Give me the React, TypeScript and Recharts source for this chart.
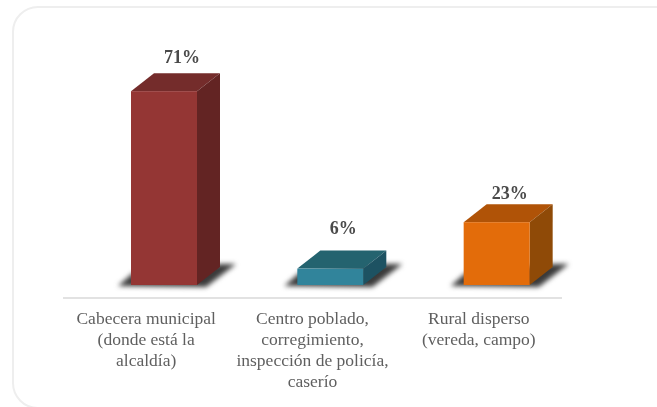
import { BarChart, Bar, XAxis, YAxis, Cell, LabelList } from 'recharts'

const categories = ['Cabecera municipal (donde está la alcaldía)', 'Centro poblado, corregimiento, inspección de policía, caserío', 'Rural disperso (vereda, campo)']
const tickLines = [
  ['Cabecera municipal', '(donde está la', 'alcaldía)'],
  ['Centro poblado,', 'corregimiento,', 'inspección de policía,', 'caserío'],
  ['Rural disperso', '(vereda, campo)'],
]
const shares = [71, 6, 23]
const frontColors = ['#943634', '#31849b', '#e36c0a']
const topColors = ['#742c2b', '#24636f', '#b05307']
const sideColors = ['#632423', '#1d5262', '#8f4a07']

const chartData = categories.map((category, i) => ({ category, share: shares[i] }))

const FONT = '"Liberation Serif", serif'
// The 3D box sits up and to the right of its slot, like the floor of an Excel 3D chart
const FLOOR_DX = 18
const FLOOR_DY = 13
const DEPTH_X = 23
const DEPTH_Y = 18
// Labels were placed by hand in the original, so they don't line up with a fixed offset
const labelNudge = [
  { dx: 18, dy: -34 },
  { dx: 13, dy: -41 },
  { dx: 13, dy: -29 },
]

function Box3D(props: any) {
  const { width, height, index } = props
  const x = props.x + FLOOR_DX
  const y = props.y - FLOOR_DY
  const r = x + width
  const b = y + height
  return (
    <g>
      <polygon
        points={`${x - 13},${b + 1} ${x + 2},${b - 12} ${r + 24},${b - 21} ${r + 39},${b - 21} ${r + 9},${b + 2}`}
        fill="#3a3a3a"
        style={{ filter: 'blur(2.5px)' }}
      />
      <polygon points={`${x},${y} ${x + DEPTH_X},${y - DEPTH_Y} ${r + DEPTH_X},${y - DEPTH_Y} ${r},${y}`} fill={topColors[index]} />
      <polygon points={`${r},${y} ${r + DEPTH_X},${y - DEPTH_Y} ${r + DEPTH_X},${b - DEPTH_Y} ${r},${b}`} fill={sideColors[index]} />
      <rect x={x} y={y} width={width} height={height} fill={frontColors[index]} />
    </g>
  )
}

function MultiLineTick({ x, index }: any) {
  return (
    <text textAnchor="middle" fontFamily={FONT} fontSize={17.5} fill="#5f5f5f">
      {tickLines[index].map((line, i) => (
        <tspan key={line} x={x} y={324 + i * 21}>
          {line}
        </tspan>
      ))}
    </text>
  )
}

function ShareLabel({ x, y, width, value, index }: any) {
  const nudge = labelNudge[index]
  return (
    <text
      x={x + FLOOR_DX + width / 2 + nudge.dx}
      y={y - FLOOR_DY + nudge.dy}
      textAnchor="middle"
      dominantBaseline="central"
      fontFamily={FONT}
      fontSize={18}
      fontWeight="bold"
      fill="#4a4a4a"
    >
      {value}%
    </text>
  )
}

export default function App() {
  return (
    <div style={{ position: 'absolute', left: 0, top: 0, width: 657, height: 407, overflow: 'hidden', background: '#fff', filter: 'blur(0.7px)' }}>
      <div
        style={{
          position: 'absolute',
          left: 12,
          top: 6,
          width: 720,
          height: 403,
          boxSizing: 'border-box',
          border: '2px solid #eeeeee',
          borderRadius: 26,
        }}
      />
      <BarChart
        width={657}
        height={407}
        data={chartData}
        margin={{ top: 25, right: 95, bottom: 0, left: 63 }}
        style={{ position: 'absolute', left: 0, top: 0 }}
      >
        <XAxis
          dataKey="category"
          interval={0}
          height={109}
          tickLine={false}
          axisLine={{ stroke: '#d9d9d9', strokeWidth: 1.5 }}
          tick={<MultiLineTick />}
        />
        <YAxis hide domain={[0, 100]} />
        <Bar dataKey="share" barSize={66} shape={<Box3D />} isAnimationActive={false}>
          {chartData.map((d) => (
            <Cell key={d.category} />
          ))}
          <LabelList dataKey="share" content={<ShareLabel />} />
        </Bar>
      </BarChart>
    </div>
  )
}
